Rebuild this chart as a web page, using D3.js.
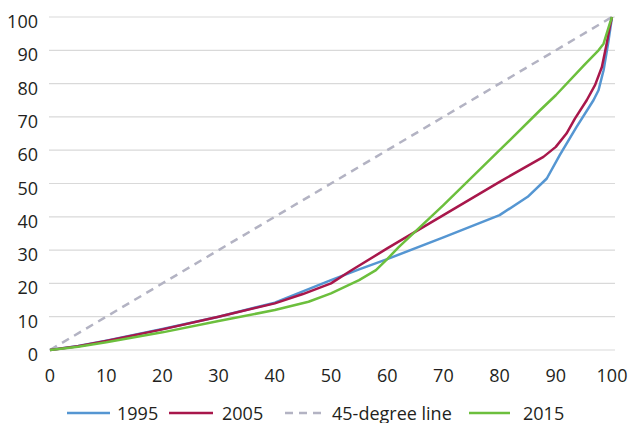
<!DOCTYPE html>
<html><head><meta charset="utf-8">
<script src="https://cdn.jsdelivr.net/npm/d3@7"></script>
<style>body{margin:0;background:#fff}svg text{font-family:"Open Sans",sans-serif;fill:#231f20}</style>
</head><body><svg id="c" width="632" height="423"></svg>
<script>
const xTicks = [0,10,20,30,40,50,60,70,80,90,100];
const yTicks = [0,10,20,30,40,50,60,70,80,90,100];
const s1995 = [[0,0],[5,1.2],[10,2.8],[20,6.3],[30,10],[40,14.2],[50,21],[55,24.2],[60,27.3],[70,33.8],[80,40.5],[85,46],[88.4,51.5],[90.7,58.5],[93.7,67],[96.7,75],[97.6,78],[98.5,84],[99.3,92],[100,100]];
const s2005 = [[0,0],[5,1.1],[10,2.7],[20,6.2],[30,10],[40,14],[45,16.8],[50,20],[53.5,23.8],[60,30.5],[70,40.5],[80,50.5],[87.8,58],[90,61],[91.9,65],[93.4,69.5],[95.5,75],[97,79.6],[98.2,85],[99.05,92],[99.6,97],[100,100]];
const s2015 = [[0,0],[5,1],[10,2.3],[20,5.3],[30,8.7],[40,12],[46,14.5],[50,17],[55,21],[58,24],[60,27.3],[62,30.8],[70,43.5],[80,60],[87.2,72],[90,76.5],[95,85.5],[97.6,90],[98.5,92],[99.6,98],[100,100]];
const sDiag = [[0,0],[100,100]];
const seriesNames = ["1995","2005","45-degree line","2015"];

const svg = d3.select("#c");
const x = d3.scaleLinear().domain([0,100]).range([50,612]);
const y = d3.scaleLinear().domain([0,100]).range([350,17]);

svg.append("g").selectAll("line").data(yTicks).join("line")
  .attr("x1",49).attr("x2",615).attr("y1",d=>y(d)).attr("y2",d=>y(d))
  .attr("stroke","#d9d9d9").attr("stroke-width",1.2);

svg.append("g").selectAll("text").data(yTicks).join("text")
  .attr("x",38).attr("y",d=>y(d)+11).attr("text-anchor","end")
  .attr("font-size",18).text(d=>d);
svg.append("g").selectAll("text").data(xTicks).join("text")
  .attr("x",d=>x(d)).attr("y",382).attr("text-anchor","middle")
  .attr("font-size",18).text(d=>d);

const line = d3.line().x(d=>x(d[0])).y(d=>y(d[1]));
const styles = [
  {data:s1995,color:"#5596d2",dash:null},
  {data:s2005,color:"#a8174b",dash:null},
  {data:sDiag,color:"#b3b3c3",dash:"8,6"},
  {data:s2015,color:"#6cbf3d",dash:null}
];
[2,0,1,3].forEach(i=>{
  const s = styles[i];
  svg.append("path").datum(s.data).attr("d",line)
    .attr("fill","none").attr("stroke",s.color).attr("stroke-width",2.5)
    .attr("stroke-linejoin","round")
    .attr("stroke-dasharray",s.dash);
});

const legPos = [[67,110,117],[169,213,222],[285,325,332],[469,510,523]];
seriesNames.forEach((n,i)=>{
  const [a,b,t] = legPos[i];
  svg.append("line").attr("x1",a).attr("x2",b).attr("y1",413).attr("y2",413)
    .attr("stroke",styles[i].color).attr("stroke-width",2.5)
    .attr("stroke-dasharray",styles[i].dash);
  svg.append("text").attr("x",t).attr("y",419.5).attr("font-size",18).text(n);
});
</script></body></html>
